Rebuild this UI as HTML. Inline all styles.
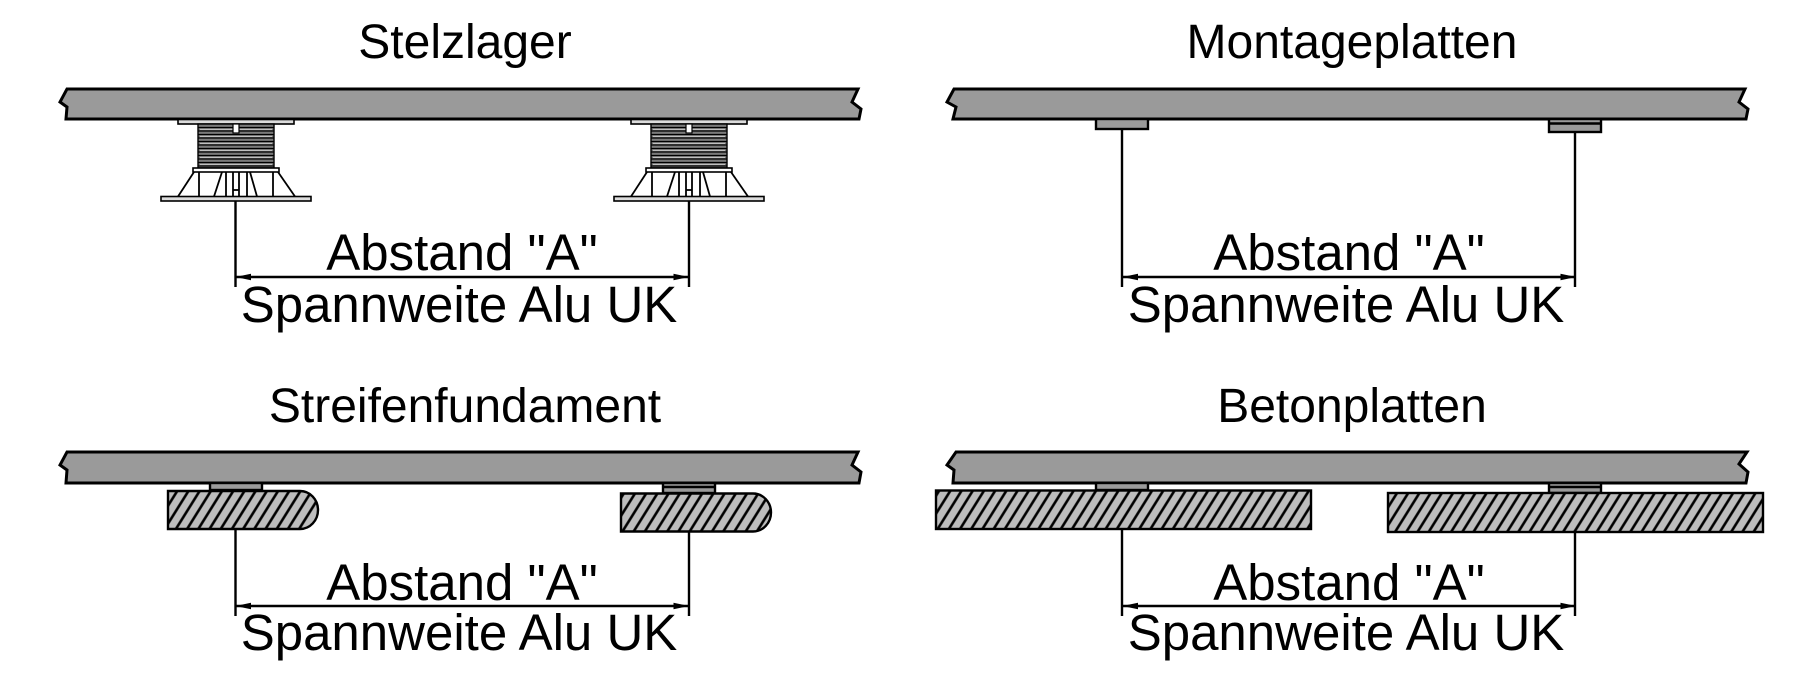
<!DOCTYPE html>
<html>
<head>
<meta charset="utf-8">
<style>
  html,body{margin:0;padding:0;background:#fff;}
  svg{display:block;}
  text{font-family:"Liberation Sans",Arial,sans-serif;fill:#000;}
</style>
</head>
<body>
<svg width="1820" height="679" viewBox="0 0 1820 679" xmlns="http://www.w3.org/2000/svg">
  <defs>
    <pattern id="hatch" patternUnits="userSpaceOnUse" width="9.5" height="20" patternTransform="rotate(32)">
      <rect x="0" y="0" width="9.5" height="20" fill="#bdbdbd"/>
      <line x1="2" y1="0" x2="2" y2="20" stroke="#000" stroke-width="2.6"/>
    </pattern>
    <g id="pedestal">
      <rect x="178" y="119.5" width="116" height="4.5" fill="#dcdcdc" stroke="#000" stroke-width="1.6"/>
      <rect x="198" y="124" width="76" height="44" fill="#7a7a7a" stroke="#000" stroke-width="1.4"/>
      <g stroke="#000" stroke-width="1.3">
        <line x1="198" y1="127.5" x2="274" y2="127.5"/>
        <line x1="198" y1="131" x2="274" y2="131"/>
        <line x1="198" y1="134.5" x2="274" y2="134.5"/>
        <line x1="198" y1="138" x2="274" y2="138"/>
        <line x1="198" y1="141.5" x2="274" y2="141.5"/>
        <line x1="198" y1="145" x2="274" y2="145"/>
        <line x1="198" y1="148.5" x2="274" y2="148.5"/>
        <line x1="198" y1="152" x2="274" y2="152"/>
        <line x1="198" y1="155.5" x2="274" y2="155.5"/>
        <line x1="198" y1="159" x2="274" y2="159"/>
        <line x1="198" y1="162.5" x2="274" y2="162.5"/>
        <line x1="198" y1="166" x2="274" y2="166"/>
      </g>
      <g stroke="#d8d8d8" stroke-width="0.9">
        <line x1="200" y1="129.3" x2="272" y2="129.3"/>
        <line x1="200" y1="136.3" x2="272" y2="136.3"/>
        <line x1="200" y1="143.3" x2="272" y2="143.3"/>
        <line x1="200" y1="150.3" x2="272" y2="150.3"/>
        <line x1="200" y1="157.3" x2="272" y2="157.3"/>
        <line x1="200" y1="164.3" x2="272" y2="164.3"/>
      </g>
      <rect x="233" y="124" width="6" height="9" fill="#fff" stroke="#000" stroke-width="1.2"/>
      <rect x="193" y="168" width="86" height="4" fill="#fff" stroke="#000" stroke-width="1.6"/>
      <g stroke="#000" stroke-width="1.8" fill="none">
        <line x1="194" y1="172" x2="178" y2="196.5"/>
        <line x1="199" y1="172" x2="199" y2="196.5"/>
        <line x1="273" y1="172" x2="273" y2="196.5"/>
        <line x1="278" y1="172" x2="295" y2="196.5"/>
        <line x1="222" y1="172" x2="214" y2="196.5"/>
        <line x1="226" y1="172" x2="226" y2="196.5"/>
        <line x1="233" y1="172" x2="233" y2="196.5"/>
        <line x1="239" y1="172" x2="239" y2="196.5"/>
        <line x1="233" y1="190" x2="239" y2="190"/>
        <line x1="247" y1="172" x2="247" y2="196.5"/>
        <line x1="250" y1="172" x2="257" y2="196.5"/>
      </g>
      <rect x="161" y="196.5" width="150" height="4.5" fill="#dcdcdc" stroke="#000" stroke-width="1.6"/>
    </g>
    <g id="dimtop">
      <line x1="235.5" y1="277" x2="689" y2="277" stroke="#000" stroke-width="2.5"/>
      <polygon points="235.5,277 251,273.8 251,280.2" fill="#000"/>
      <polygon points="689,277 673.5,273.8 673.5,280.2" fill="#000"/>
      <text x="462" y="270" font-size="51" text-anchor="middle">Abstand "A"</text>
      <text x="459" y="322" font-size="51" text-anchor="middle">Spannweite Alu UK</text>
    </g>
    <g id="dimbot">
      <line x1="235.5" y1="606" x2="689" y2="606" stroke="#000" stroke-width="2.5"/>
      <polygon points="235.5,606 251,602.8 251,609.2" fill="#000"/>
      <polygon points="689,606 673.5,602.8 673.5,609.2" fill="#000"/>
      <text x="462" y="600" font-size="51" text-anchor="middle">Abstand "A"</text>
      <text x="459" y="650" font-size="51" text-anchor="middle">Spannweite Alu UK</text>
    </g>
  </defs>

  <text x="465" y="58" font-size="48" text-anchor="middle">Stelzlager</text>
  <text x="1352" y="58" font-size="48" text-anchor="middle">Montageplatten</text>
  <text x="465" y="422" font-size="48" text-anchor="middle">Streifenfundament</text>
  <text x="1352" y="422" font-size="48" text-anchor="middle">Betonplatten</text>

  <g fill="#9a9a9a" stroke="#000" stroke-width="3" stroke-linejoin="miter">
    <path d="M67,89 L858,89 L852,102 L861,109 L859,119 L66,119 L67,107 L60,102 Z"/>
    <path d="M954,89 L1745,89 L1739,102 L1748,109 L1746,119 L953,119 L956,107 L947,102 Z"/>
    <path d="M67,452 L858,452 L852,465 L861,472 L859,483 L66,483 L67,470 L60,465 Z"/>
    <path d="M956,452 L1747,452 L1739,464 L1748,472 L1746,483 L953,483 L954,470 L947,465 Z"/>
  </g>

  <use href="#pedestal"/>
  <use href="#pedestal" transform="translate(453,0)"/>
  <g stroke="#000" stroke-width="2.4">
    <line x1="235.5" y1="201" x2="235.5" y2="287"/>
    <line x1="689" y1="201" x2="689" y2="287"/>
  </g>
  <use href="#dimtop"/>

  <g stroke="#000" stroke-width="2.4">
    <rect x="1096" y="119" width="52" height="10" fill="#9a9a9a"/>
    <rect x="1549" y="119" width="52" height="13" fill="#9a9a9a"/>
    <line x1="1549" y1="123.5" x2="1601" y2="123.5"/>
    <line x1="1122" y1="129" x2="1122" y2="287"/>
    <line x1="1575" y1="132" x2="1575" y2="287"/>
  </g>
  <use href="#dimtop" transform="translate(887,0)"/>

  <g stroke="#000" stroke-width="2.4">
    <rect x="210" y="483" width="52" height="7" fill="#9a9a9a"/>
    <path d="M168,491 H300 A18,19 0 0 1 300,529 H168 Z" fill="url(#hatch)"/>
    <rect x="663" y="483" width="52" height="10" fill="#9a9a9a"/>
    <line x1="663" y1="487" x2="715" y2="487"/>
    <path d="M621,493.5 H753 A18,19 0 0 1 753,531.5 H621 Z" fill="url(#hatch)"/>
    <line x1="235.5" y1="529" x2="235.5" y2="616"/>
    <line x1="689" y1="531.5" x2="689" y2="616"/>
  </g>
  <use href="#dimbot"/>

  <g stroke="#000" stroke-width="2.4">
    <rect x="1096" y="483" width="52" height="7" fill="#9a9a9a"/>
    <rect x="936" y="490.5" width="375" height="38.5" fill="url(#hatch)"/>
    <rect x="1549" y="483" width="52" height="10" fill="#9a9a9a"/>
    <line x1="1549" y1="487" x2="1601" y2="487"/>
    <rect x="1388" y="493" width="375" height="39" fill="url(#hatch)"/>
    <line x1="1122" y1="529" x2="1122" y2="616"/>
    <line x1="1575" y1="532" x2="1575" y2="616"/>
  </g>
  <use href="#dimbot" transform="translate(887,0)"/>
</svg>
</body>
</html>
